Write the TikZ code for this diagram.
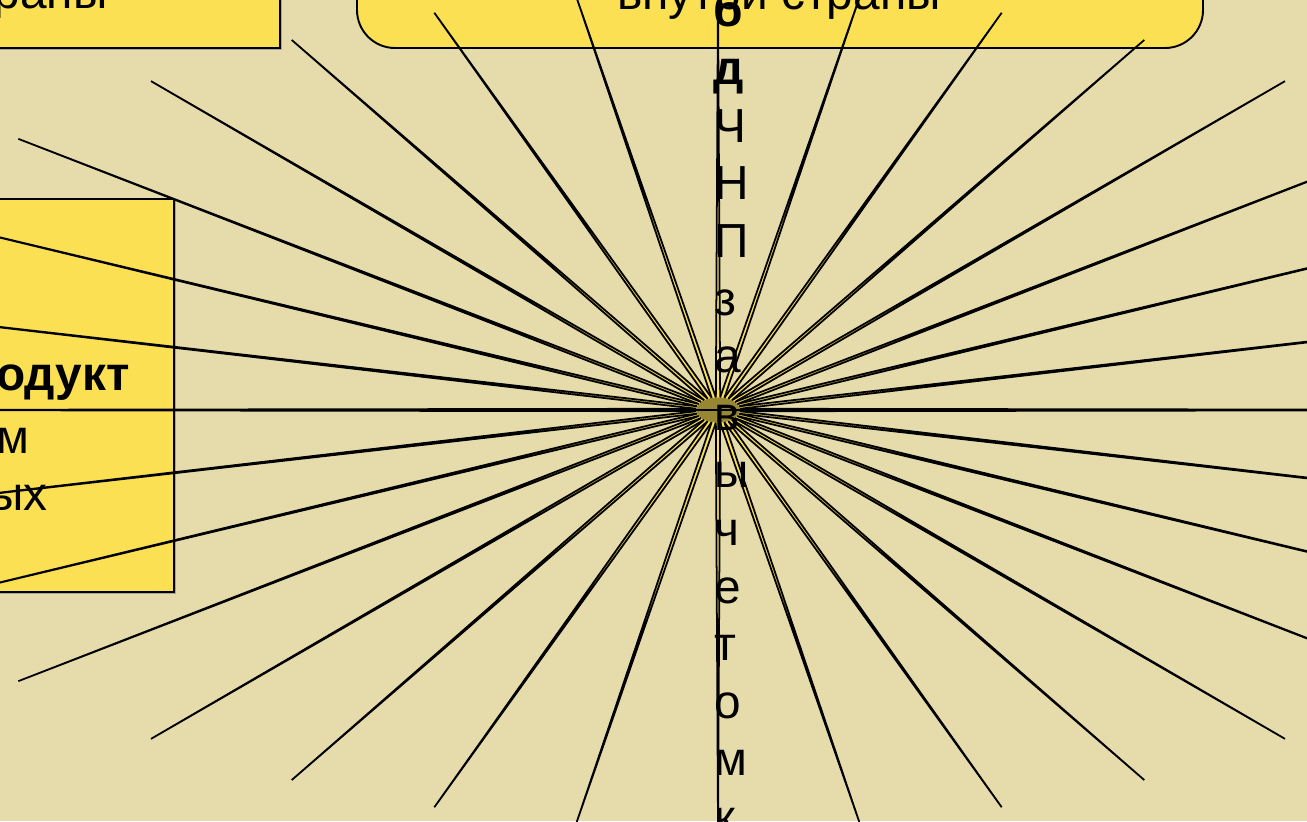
\documentclass[tikz,border=0pt]{standalone}
\usepackage{fontspec}
\setmainfont{Liberation Sans}
\usetikzlibrary{calc}
\definecolor{bgbeige}{RGB}{230,220,171}
\definecolor{boxyellow}{RGB}{251,224,83}
\newcommand\slidefont{\fontsize{27.2}{32}\selectfont}

\begin{document}
\begin{tikzpicture}[x=0.02cm,y=-0.02cm,
  every node/.style={font=\slidefont,inner sep=0pt},
  panel/.style={fill=boxyellow,draw=black,line width=1.1pt},
  spike/.style={fill=boxyellow,draw=black,line width=1pt,line join=miter},
  letter/.style={anchor=base west}]
% frame 1307 x 821 px
\useasboundingbox (0,0) rectangle (1307,821);
\clip (0,0) rectangle (1307,821);
\fill[bgbeige] (0,0) rectangle (1307,821);

% top left box
\fill[black!35] (-40,-60) rectangle (282,50);
\draw[panel] (-40,-60) rectangle (280,48);
\node[anchor=base east] (outside) at (108,9) {страны};
% top box
\draw[panel,rounded corners=0.76cm] (357,-80) rectangle (1203,48);
\node[anchor=base] (inside) at (779,10) {внутри страны};
% left box
\fill[black!35] (-40,201) rectangle (176,594);
\draw[panel] (-40,199) rectangle (174,592);
\node[anchor=base east,font=\slidefont\bfseries] (prod) at (130,390) {продукт};
\node[anchor=base east] (lineb) at (30,453) {м};
\node[anchor=base east] (linec) at (48,510) {ых};

% starburst, 32 spikes
\def\cx{718} \def\cy{410}
\def\ra{9.2} \def\rb{7.2} \def\rin{22} \def\sq{0.58}
\coordinate (ctr) at (\cx,\cy);
\begin{scope}[shift={(ctr)}]
\fill[boxyellow!60!black] (0,0) ellipse [x radius=\rin, y radius=\sq*\rin];
\foreach \k in {0,...,31}{
  \pgfmathsetmacro\ang{\k*11.25}
  \pgfmathsetmacro\rad{100*\ra*\rb/sqrt((\rb*cos(\ang))^2+(\ra*sin(\ang))^2)}
  \filldraw[spike] ({\rin*cos(\ang-5.625)},{-\sq*\rin*sin(\ang-5.625)})
    -- ({\rad*cos(\ang)},{-\sq*\rad*sin(\ang)})
    -- ({\rin*cos(\ang+5.625)},{-\sq*\rin*sin(\ang+5.625)});
}
\end{scope}
\coordinate (hl) at (250,410);
\coordinate (hr) at (1188,410);
\draw[line width=1.5pt] (hl) -- (hr);

% vertical text
\node[letter,font=\slidefont\bfseries] (ch0) at (713,27) {б};
\node[letter,font=\slidefont\bfseries] (ch1) at (713,84.6) {д};
\foreach \ch [count=\k from 2] in {Ч,Н,П,з,а,в,ы,ч,е,т,о,м,к}
  \node[letter] (ch\k) at (714,{27+57.6*\k}) {\ch};
\end{tikzpicture}
\end{document}
